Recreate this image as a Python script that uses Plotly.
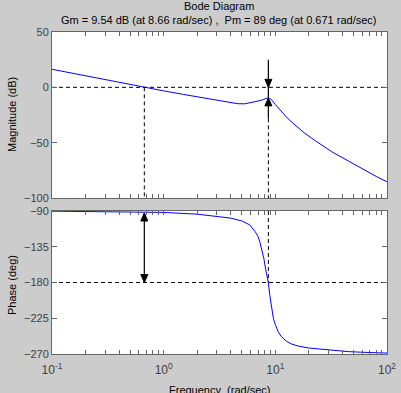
import plotly.graph_objects as go

# ---- data ----
mag_freq = [0.1, 0.15, 0.2, 0.3, 0.45, 0.671, 1.0, 1.5, 2.0, 2.6, 3.3, 4.0, 4.6, 5.3,
            6.0, 6.7, 7.3, 7.9, 8.4, 8.66, 8.9, 9.3, 10.0, 10.6, 11.5, 13.0, 15.0,
            18.4, 23.0, 32.0, 45.0, 63.0, 80.0, 100.0]
mag_db = [16.3, 12.8, 10.4, 6.9, 3.5, 0.0, -3.2, -6.4, -8.6, -10.6, -12.6, -14.0, -14.8, -14.9,
          -14.0, -13.1, -12.0, -10.8, -9.8, -9.4, -10.0, -11.5, -15.5, -18.5, -22.5, -28.5, -34.0,
          -41.6, -48.5, -58.2, -66.5, -74.8, -80.5, -85.4]

ph_freq = [0.1, 0.3, 0.671, 1.0, 2.0, 3.0, 4.0, 5.0, 5.9, 6.6, 7.0, 7.3, 7.6, 7.9, 8.2,
           8.45, 8.66, 8.9, 9.1, 9.3, 9.6, 10.0, 10.6, 11.3, 12.6, 14.0, 16.0, 20.0, 25.0,
           33.0, 45.0, 65.0, 100.0]
ph_deg = [-90.2, -90.6, -91.0, -91.8, -94.0, -96.5, -99.0, -102.5, -107.5, -116.0, -122.0,
          -130.0, -139.0, -150.0, -164.0, -173.0, -180.0, -195.0, -206.0, -215.0, -225.0,
          -233.0, -242.0, -248.0, -254.0, -257.5, -260.0, -262.5, -264.0, -265.5, -267.0,
          -268.0, -268.8]

gm_db = 9.54
gm_freq = 8.66
pm_deg = 89
pm_freq = 0.671
gm_line_top = 25.0
gm_line_bottom = -28.0

mag_ticks = [-100, -50, 0, 50]
ph_ticks = [-270, -225, -180, -135, -90]
decades = [-1, 0, 1, 2]

# ---- layout geometry ----
W, H = 401, 393
ML, MR, MT, MB = 52, 14, 32, 39
PW = W - ML - MR
PH = H - MT - MB
top_px = (32, 198)
bot_px = (211, 354)
top_dom = [(H - MB - top_px[1]) / PH, 1.0]
bot_dom = [0.0, (H - MB - bot_px[0]) / PH]

px_per_dec = PW / 3.0
px_per_db = (top_px[1] - top_px[0]) / 150.0
px_per_deg = (bot_px[1] - bot_px[0]) / 180.0

BLUE = "#0000ff"
FONT = "Liberation Sans, Arial, sans-serif"
TICKC = "#404040"
AXC = "#666666"

fig = go.Figure()

# curves
fig.add_trace(go.Scatter(x=mag_freq, y=mag_db, mode="lines", line=dict(color=BLUE, width=1),
                         xaxis="x", yaxis="y"))
fig.add_trace(go.Scatter(x=ph_freq, y=ph_deg, mode="lines", line=dict(color=BLUE, width=1),
                         xaxis="x2", yaxis="y2"))

dash = dict(color="black", width=1, dash="4px,3px")
solid = dict(color="black", width=1.2)

# horizontal reference lines
fig.add_trace(go.Scatter(x=[0.1, 100], y=[0, 0], mode="lines", line=dash, xaxis="x", yaxis="y"))
fig.add_trace(go.Scatter(x=[0.1, 100], y=[-180, -180], mode="lines", line=dash, xaxis="x2", yaxis="y2"))

# gain margin markers
fig.add_trace(go.Scatter(x=[gm_freq, gm_freq], y=[gm_line_top, gm_line_bottom], mode="lines",
                         line=solid, xaxis="x", yaxis="y"))
fig.add_trace(go.Scatter(x=[gm_freq, gm_freq], y=[gm_line_bottom, -100], mode="lines",
                         line=dash, xaxis="x", yaxis="y"))
fig.add_trace(go.Scatter(x=[gm_freq, gm_freq], y=[-90, -180], mode="lines",
                         line=dash, xaxis="x2", yaxis="y2"))

# phase margin markers
fig.add_trace(go.Scatter(x=[pm_freq, pm_freq], y=[0, -100], mode="lines",
                         line=dash, xaxis="x", yaxis="y"))
fig.add_trace(go.Scatter(x=[pm_freq, pm_freq], y=[-180 + pm_deg - 1.5, -180], mode="lines",
                         line=solid, xaxis="x2", yaxis="y2"))


def tri(f, tip, direction, per_unit, xa, ya, w=7.0, h=8.0):
    fl = f * 10 ** (-w / 2 / px_per_dec)
    fr = f * 10 ** (w / 2 / px_per_dec)
    base = tip + direction * h / per_unit
    return go.Scatter(x=[fl, fr, f, fl], y=[base, base, tip, base], mode="lines",
                      fill="toself", fillcolor="black", line=dict(color="black", width=1),
                      xaxis=xa, yaxis=ya)


fig.add_trace(tri(gm_freq, 0.0, +1, px_per_db, "x", "y"))
fig.add_trace(tri(gm_freq, -gm_db, -1, px_per_db, "x", "y"))
fig.add_trace(tri(pm_freq, -180 + pm_deg - 1.5, -1, px_per_deg, "x2", "y2"))
fig.add_trace(tri(pm_freq, -180.0, +1, px_per_deg, "x2", "y2"))

# log ticks
xt = []
for d in decades[:-1]:
    for m in range(1, 10):
        xt.append(m * 10.0 ** d)
xt.append(100.0)
xtext = []
for v in xt:
    lab = ""
    for d in decades:
        if abs(v - 10.0 ** d) < 1e-9:
            lab = "10<sup>%d</sup>" % d
    xtext.append(lab)

common_x = dict(type="log", range=[-1, 2], showgrid=False, zeroline=False, showline=True,
                linecolor=AXC, linewidth=1, mirror="ticks", ticks="inside", ticklen=4,
                tickcolor=AXC, tickvals=xt, ticktext=xtext, automargin=False,
                tickfont=dict(family=FONT, size=12, color=TICKC))
common_y = dict(showgrid=False, zeroline=False, showline=True, linecolor=AXC, linewidth=1,
                mirror="ticks", ticks="inside", ticklen=5, tickcolor=AXC, automargin=False,
                tickfont=dict(family=FONT, size=11, color=TICKC))

fig.update_layout(
    width=W, height=H,
    margin=dict(l=ML, r=MR, t=MT, b=MB, pad=0, autoexpand=False),
    paper_bgcolor="#cccccc", plot_bgcolor="white",
    showlegend=False,
    xaxis=dict(common_x, domain=[0, 1], anchor="y", showticklabels=False),
    yaxis=dict(common_y, domain=top_dom, range=[-100, 50], tickvals=mag_ticks, anchor="x"),
    xaxis2=dict(common_x, domain=[0, 1], anchor="y2", ticklabelstandoff=5),
    yaxis2=dict(common_y, domain=bot_dom, range=[-270, -90], tickvals=ph_ticks, anchor="x2"),
)


def py(p):
    return (H - MB - p) / PH


def px(p):
    return (p - ML) / PW


ann = [
    dict(text="Bode Diagram", x=px(219), y=py(6), size=11),
    dict(text="Gm = 9.54 dB (at 8.66 rad/sec) ,  Pm = 89 deg (at 0.671 rad/sec)",
         x=px(219), y=py(20), size=11),
    dict(text="Frequency\u00a0\u00a0(rad/sec)", x=px(219), y=py(390), size=11),
]
for a in ann:
    fig.add_annotation(text=a["text"], x=a["x"], y=a["y"], xref="paper", yref="paper",
                       showarrow=False, xanchor="center", yanchor="middle",
                       font=dict(family=FONT, size=a["size"], color="black"))
fig.add_annotation(text="Magnitude (dB)", x=px(12), y=py(115), xref="paper", yref="paper",
                   showarrow=False, textangle=-90, xanchor="center", yanchor="middle",
                   font=dict(family=FONT, size=11, color="black"))
fig.add_annotation(text="Phase (deg)", x=px(12), y=py(285), xref="paper", yref="paper",
                   showarrow=False, textangle=-90, xanchor="center", yanchor="middle",
                   font=dict(family=FONT, size=11, color="black"))

fig.write_html("out.html", config={"displayModeBar": False},
               post_script="document.body.style.margin='0';document.body.style.overflow='hidden';")
